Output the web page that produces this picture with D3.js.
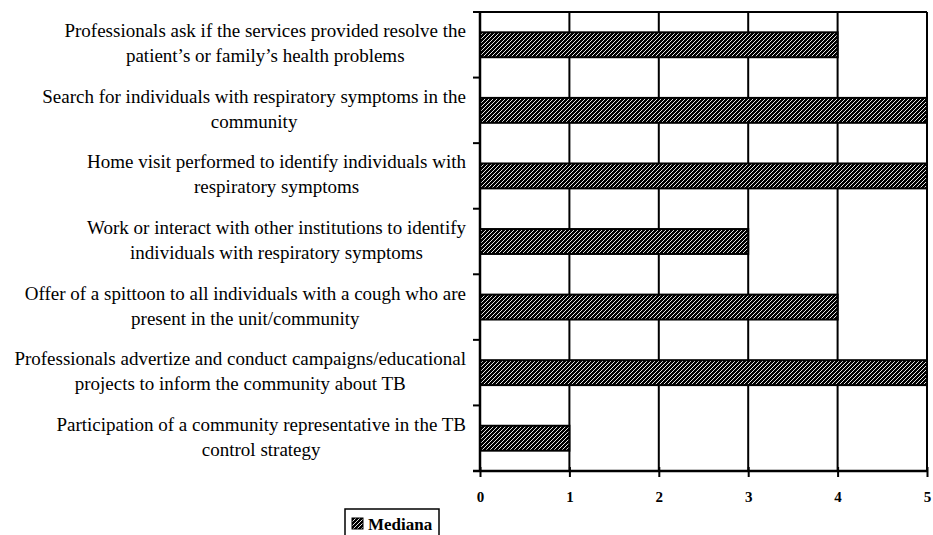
<!DOCTYPE html>
<html>
<head>
<meta charset="utf-8">
<script src="https://cdn.jsdelivr.net/npm/d3@7"></script>
<style>
  body { margin: 0; background: #fff; }
</style>
</head>
<body>
<svg id="chart" width="933" height="535"></svg>
<script>
const categories = [
  ["Professionals ask if the services provided resolve the", "patient\u2019s or family\u2019s health problems"],
  ["Search for individuals with respiratory symptoms in the", "community"],
  ["Home visit performed to identify individuals with", "respiratory symptoms"],
  ["Work or interact with other institutions to identify", "individuals with respiratory symptoms"],
  ["Offer of a spittoon to all individuals with a cough who are", "present in the unit/community"],
  ["Professionals advertize and conduct campaigns/educational", "projects to inform the community about TB"],
  ["Participation of a community representative in the TB", "control strategy"]
];
const medians = [4, 5, 5, 3, 4, 5, 1];
const xTicks = [0, 1, 2, 3, 4, 5];
const seriesName = "Mediana";

const serif = '"Times New Roman", "Liberation Serif", serif';
const svg = d3.select('#chart');
const plotLeft = 480, plotRight = 927, plotTop = 12, plotBottom = 471;

const x = d3.scaleLinear().domain([0, 5]).range([plotLeft, plotRight]);
const y = d3.scaleBand().domain(d3.range(categories.length)).range([plotTop, plotBottom]).paddingInner(0.62).paddingOuter(0.31);

// hatch pattern
const defs = svg.append('defs');
const pat = defs.append('pattern')
  .attr('id', 'hatch')
  .attr('patternUnits', 'userSpaceOnUse')
  .attr('width', 4).attr('height', 4);
pat.append('rect').attr('width', 4).attr('height', 4).attr('fill', '#000');
pat.append('path')
  .attr('d', 'M-1,1 l2,-2 M0,4 l4,-4 M3,5 l2,-2')
  .attr('stroke', '#fff').attr('stroke-width', 0.9);

// gridlines
svg.append('g')
  .selectAll('line')
  .data(xTicks.slice(1))
  .enter()
  .append('line')
  .attr('x1', d => x(d)).attr('x2', d => x(d))
  .attr('y1', plotTop).attr('y2', plotBottom)
  .attr('stroke', '#000').attr('stroke-width', 2);

// top line
svg.append('line')
  .attr('x1', plotLeft - 7).attr('x2', plotRight)
  .attr('y1', plotTop).attr('y2', plotTop)
  .attr('stroke', '#000').attr('stroke-width', 2);

// bars
svg.append('g')
  .selectAll('rect')
  .data(medians)
  .enter()
  .append('rect')
  .attr('x', x(0))
  .attr('y', (d, i) => y(i))
  .attr('width', d => x(d) - x(0))
  .attr('height', y.bandwidth())
  .attr('fill', 'url(#hatch)')
  .attr('stroke', '#000')
  .attr('stroke-width', 2);

// y axis
const step = (plotBottom - plotTop) / categories.length;
svg.append('line')
  .attr('x1', plotLeft).attr('x2', plotLeft)
  .attr('y1', plotTop).attr('y2', plotBottom)
  .attr('stroke', '#000').attr('stroke-width', 2.5);
svg.append('g')
  .selectAll('line')
  .data(d3.range(categories.length + 1))
  .enter()
  .append('line')
  .attr('x1', plotLeft - 7).attr('x2', plotLeft)
  .attr('y1', i => plotTop + i * step).attr('y2', i => plotTop + i * step)
  .attr('stroke', '#000').attr('stroke-width', 2);

// x axis
const xAxis = svg.append('g')
  .attr('transform', `translate(0,${plotBottom})`)
  .call(d3.axisBottom(x).tickValues(xTicks).tickSize(6).tickPadding(14).tickFormat(d3.format('d')));
xAxis.attr('font-family', serif);
xAxis.select('.domain').attr('stroke', '#000').attr('stroke-width', 2.5).attr('d', `M${plotLeft - 7},0H${plotRight}`);
xAxis.selectAll('.tick line').attr('stroke', '#000').attr('stroke-width', 2).attr('y1', -4);
xAxis.selectAll('.tick text')
  .attr('font-size', 15).attr('font-weight', 'bold').attr('fill', '#000');

// category labels
const labelRight = 466;
const labels = svg.append('g').attr('font-family', serif);
categories.forEach((lines, i) => {
  const cy = y(i) + y.bandwidth() / 2;
  const g = labels.append('g');
  const texts = g.selectAll('text')
    .data(lines)
    .enter()
    .append('text')
    .attr('font-size', 19)
    .attr('text-anchor', 'middle')
    .attr('fill', '#000')
    .attr('y', (d, j) => cy - 7.5 + j * 25)
    .text(d => d);
  const maxW = d3.max(texts.nodes(), n => n.getComputedTextLength());
  texts.attr('x', labelRight - maxW / 2);
});

// legend
const legend = svg.append('g').attr('transform', 'translate(345,509)').attr('font-family', serif);
legend.append('rect')
  .attr('width', 94).attr('height', 34)
  .attr('fill', '#fff').attr('stroke', '#000').attr('stroke-width', 1.5);
legend.append('rect')
  .attr('x', 7).attr('y', 9).attr('width', 11).attr('height', 11)
  .attr('fill', 'url(#hatch)').attr('stroke', '#000').attr('stroke-width', 1);
legend.append('text')
  .attr('x', 23).attr('y', 21)
  .attr('font-size', 17).attr('font-weight', 'bold').attr('fill', '#000')
  .text(seriesName);
</script>
</body>
</html>
